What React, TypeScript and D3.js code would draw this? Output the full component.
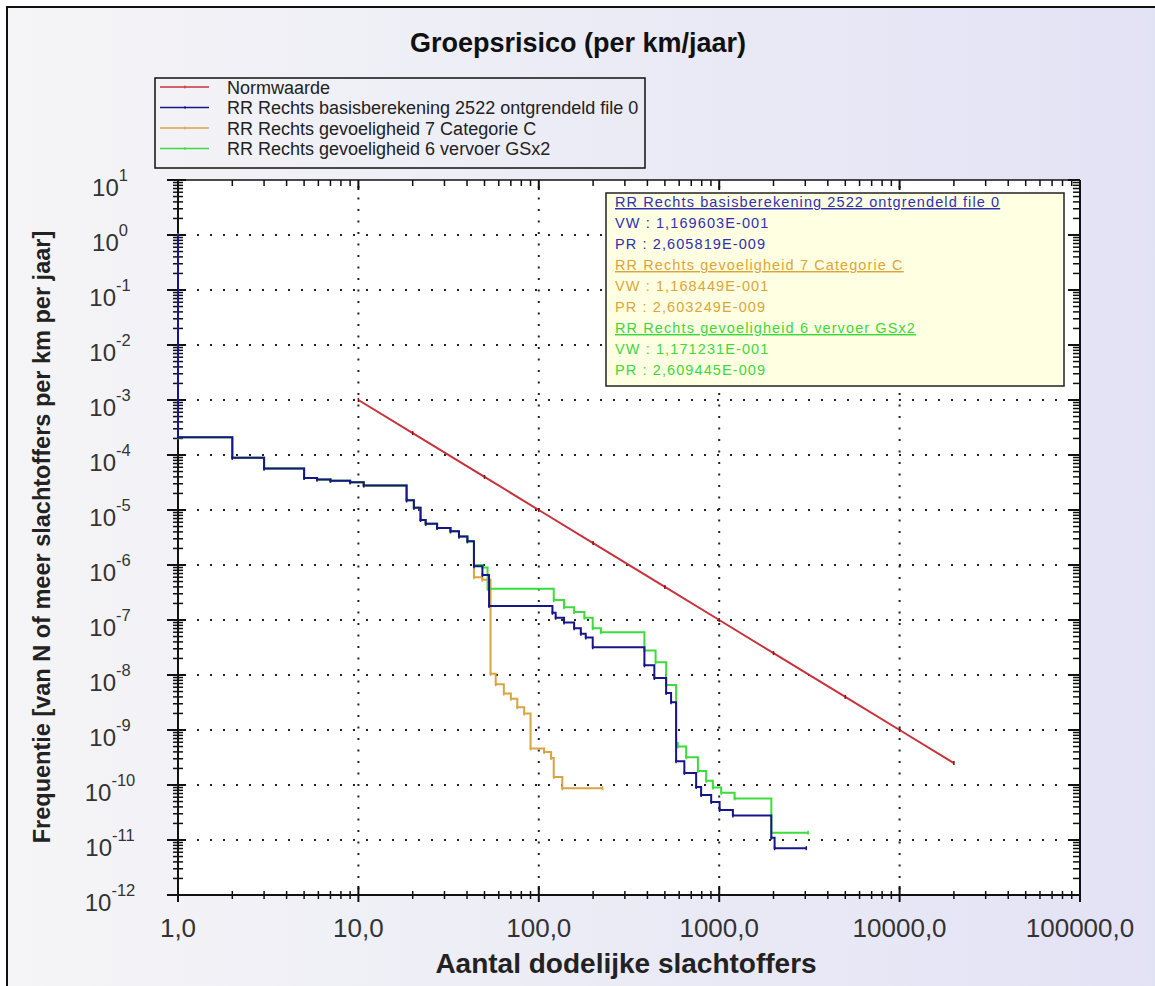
import * as React from "react";
import * as d3 from "d3";

// N (number of fatalities) and F (frequency of N or more) - step curves
const sharedHead: [number, number][] = [
  [1, 1], [1, 2.1e-4], [2, 8.9e-5], [3, 5.7e-5], [5, 3.8e-5], [5.9, 3.6e-5],
  [7, 3.4e-5], [9, 3.2e-5], [10.7, 2.8e-5], [18.5, 1.5e-5], [20.3, 1.1e-5],
  [22.1, 6.6e-6], [23.6, 5.6e-6], [27.3, 4.7e-6], [32.4, 4.1e-6], [36.1, 3.3e-6],
  [40.2, 2.7e-6],
];

const basisTail: [number, number][] = [
  [43.7, 9.5e-7], [48.7, 6.6e-7], [53, 1.8e-7], [119, 1.35e-7], [124, 1.1e-7],
  [138, 9e-8], [157, 7.1e-8], [171, 5.6e-8], [182, 4.8e-8], [199, 3.2e-8],
  [385, 1.5e-8], [437, 8.8e-9], [508, 4.7e-9], [541, 3.2e-9], [577, 2.7e-10],
  [641, 1.66e-10], [745, 9.2e-11], [794, 6.6e-11], [903, 4.9e-11], [1005, 3.5e-11],
  [1191, 2.8e-11], [1945, 1.1e-11], [2028, 7.1e-12], [3040, 7.1e-12],
];

const categorieCTail: [number, number][] = [
  [43.7, 6e-7], [48.7, 5.4e-7], [54, 1.05e-8], [57.7, 6.8e-9], [64, 4.6e-9],
  [70, 3.7e-9], [76, 2.6e-9], [83, 2e-9], [90, 4.6e-10], [107, 4e-10],
  [117, 3.1e-10], [121, 1.4e-10], [135, 8.7e-11], [226, 8.7e-11],
];

const vervoerTail: [number, number][] = [
  [43.7, 1e-6], [48.7, 9e-7], [52, 3.7e-7], [121, 2.3e-7], [138, 1.7e-7],
  [157, 1.4e-7], [179, 1.1e-7], [199, 7.1e-8], [221, 6e-8], [385, 2.8e-8],
  [444, 1.7e-8], [508, 6.6e-9], [577, 5.8e-10], [589, 5e-10], [656, 3.2e-10],
  [762, 1.8e-10], [847, 1.2e-10], [922, 9e-11], [1026, 7.2e-11], [1217, 5.7e-11],
  [1945, 1.35e-11], [3110, 1.35e-11],
];

const normwaarde: [number, number][] = [
  [10, 1e-3], [20, 2.5e-4], [50, 4e-5], [100, 1e-5], [200, 2.5e-6], [500, 4e-7],
  [1000, 1e-7], [2000, 2.5e-8], [5000, 4e-9], [10000, 1e-9], [20000, 2.5e-10],
];

const legendLabels = [
  "Normwaarde",
  "RR Rechts basisberekening 2522 ontgrendeld file 0",
  "RR Rechts gevoeligheid 7 Categorie C",
  "RR Rechts gevoeligheid 6 vervoer GSx2",
];
const seriesColors = ["#c8323a", "#16168a", "#d9a441", "#3ddc3d"];
const infoColors = ["#3030b4", "#dca53a", "#3cd83c"];

const infoLines = [
  ["RR Rechts basisberekening 2522 ontgrendeld file 0", "VW : 1,169603E-001", "PR : 2,605819E-009"],
  ["RR Rechts gevoeligheid 7 Categorie C", "VW : 1,168449E-001", "PR : 2,603249E-009"],
  ["RR Rechts gevoeligheid 6 vervoer GSx2", "VW : 1,171231E-001", "PR : 2,609445E-009"],
];

const yExponents = [1, 0, -1, -2, -3, -4, -5, -6, -7, -8, -9, -10, -11, -12];
const xTickValues = [1, 10, 100, 1000, 10000, 100000];
const xTickLabels = ["1,0", "10,0", "100,0", "1000,0", "10000,0", "100000,0"];

const FONT = "'Liberation Sans', Arial, sans-serif";

export default function App() {
  const W = 1155;
  const H = 986;
  const left = 178, right = 1080, top = 180, bottom = 895;

  const x = d3.scaleLog().domain([1, 1e5]).range([left, right]);
  const y = d3.scaleLog().domain([1e-12, 1e1]).range([bottom, top]);

  const stepLine = d3
    .line<[number, number]>()
    .x((d) => x(d[0]))
    .y((d) => y(d[1]))
    .curve(d3.curveStepAfter);
  const straight = d3
    .line<[number, number]>()
    .x((d) => x(d[0]))
    .y((d) => y(d[1]));

  const basis = sharedHead.concat(basisTail);
  const catC = sharedHead.concat(categorieCTail);
  const gsx2 = sharedHead.concat(vervoerTail);

  // minor ticks
  const yMinor: number[] = [];
  for (let e = -12; e < 1; e++) for (let m = 2; m <= 9; m++) yMinor.push(m * Math.pow(10, e));
  const xMinor: number[] = [];
  for (let e = 0; e < 5; e++) for (let m = 2; m <= 9; m++) xMinor.push(m * Math.pow(10, e));

  const dots = (d: [number, number][], color: string, key: string) =>
    d.map((p, i) => (
      <line key={key + i} x1={x(p[0])} x2={x(p[0])} y1={y(p[1]) - 2} y2={y(p[1]) + 2} stroke={color} strokeWidth={1.5} />
    ));

  const box = { x: 606, y: 193, w: 458, h: 193 };

  return (
    <svg width={W} height={H} style={{ position: "absolute", left: 0, top: 0, display: "block" }} fontFamily={FONT}>
      <defs>
        <linearGradient id="bg" x1="0" x2="1" y1="0" y2="0">
          <stop offset="0" stopColor="#f5f5f7" />
          <stop offset="1" stopColor="#e2e2f5" />
        </linearGradient>
      </defs>
      <rect x={0} y={0} width={W} height={H} fill="#ffffff" />
      <rect x={7} y={7} width={1170} height={1000} fill="url(#bg)" stroke="#111" strokeWidth={2} />

      <text x={578} y={52} textAnchor="middle" fontSize={27} fontWeight="bold" fill="#111">
        Groepsrisico (per km/jaar)
      </text>

      {/* legend */}
      <rect x={155} y={78} width={490} height={90} fill="none" stroke="#111" strokeWidth={1.5} />
      {legendLabels.map((label, i) => {
        const cy = 87 + i * 20.5;
        return (
          <g key={label}>
            <line x1={160} x2={209} y1={cy} y2={cy} stroke={seriesColors[i]} strokeWidth={1.5} />
            <line x1={185} x2={185} y1={cy - 1.5} y2={cy + 1.5} stroke={seriesColors[i]} strokeWidth={1} />
            <text x={227} y={cy + 6.5} fontSize={18} fill="#222">
              {label}
            </text>
          </g>
        );
      })}

      {/* plot area */}
      <rect x={left} y={top} width={right - left} height={bottom - top} fill="#ffffff" />

      {yExponents
        .filter((e) => e < 1 && e > -12)
        .map((e) => (
          <line key={"gy" + e} x1={left + 6} x2={right} y1={y(Math.pow(10, e))} y2={y(Math.pow(10, e))}
            stroke="#222" strokeWidth={2} strokeDasharray="2 11" />
        ))}
      {xTickValues
        .filter((v) => v > 1 && v < 1e5)
        .map((v) => (
          <line key={"gx" + v} x1={x(v)} x2={x(v)} y1={top + 6} y2={bottom} stroke="#222" strokeWidth={2} strokeDasharray="2 9.5" />
        ))}

      {/* axes */}
      <line x1={left} x2={right} y1={top} y2={top} stroke="#111" strokeWidth={1.5} />
      <line x1={left} x2={left} y1={top} y2={bottom} stroke="#111" strokeWidth={2} />
      <line x1={right} x2={right} y1={top} y2={bottom} stroke="#111" strokeWidth={2} />
      <line x1={left} x2={right} y1={bottom} y2={bottom} stroke="#111" strokeWidth={2} />

      {yMinor.map((v, i) => (
        <g key={"ym" + i}>
          <line x1={left - 5} x2={left + 5} y1={y(v)} y2={y(v)} stroke="#111" strokeWidth={1.5} />
          <line x1={right - 7} x2={right} y1={y(v)} y2={y(v)} stroke="#111" strokeWidth={1.5} />
        </g>
      ))}
      {yExponents.map((e) => (
        <g key={"yM" + e}>
          <line x1={left - 11} x2={left + 8} y1={y(Math.pow(10, e))} y2={y(Math.pow(10, e))} stroke="#111" strokeWidth={2} />
          <line x1={right - 12} x2={right} y1={y(Math.pow(10, e))} y2={y(Math.pow(10, e))} stroke="#111" strokeWidth={2} />
          <text x={110} y={y(Math.pow(10, e)) + 16} textAnchor="middle" fill="#333">
            <tspan fontSize={24}>10</tspan>
            <tspan fontSize={16.5} dy={-15}>{e}</tspan>
          </text>
        </g>
      ))}
      {xMinor.map((v, i) => (
        <g key={"xm" + i}>
          <line x1={x(v)} x2={x(v)} y1={bottom - 4} y2={bottom + 4} stroke="#111" strokeWidth={1.5} />
          <line x1={x(v)} x2={x(v)} y1={top} y2={top + 6} stroke="#111" strokeWidth={1.5} />
        </g>
      ))}
      {xTickValues.map((v, i) => (
        <g key={"xM" + v}>
          <line x1={x(v)} x2={x(v)} y1={bottom - 9} y2={bottom + 7} stroke="#111" strokeWidth={2} />
          <line x1={x(v)} x2={x(v)} y1={top} y2={top + 10} stroke="#111" strokeWidth={2} />
          <text x={x(v)} y={937} textAnchor="middle" fontSize={26} fill="#333">
            {xTickLabels[i]}
          </text>
        </g>
      ))}

      {/* series */}
      <path d={straight(normwaarde) ?? undefined} fill="none" stroke={seriesColors[0]} strokeWidth={2} />
      {dots(normwaarde, "#8a1010", "n")}
      <path d={stepLine(catC) ?? undefined} fill="none" stroke={seriesColors[2]} strokeWidth={2} />
      {dots(catC, seriesColors[2], "c")}
      <path d={stepLine(gsx2) ?? undefined} fill="none" stroke={seriesColors[3]} strokeWidth={2} />
      {dots(gsx2, seriesColors[3], "g")}
      <path d={stepLine(basis) ?? undefined} fill="none" stroke={seriesColors[1]} strokeWidth={2} />
      {dots(basis, seriesColors[1], "b")}

      {/* info box */}
      <rect x={box.x} y={box.y} width={box.w} height={box.h} fill="#ffffe2" stroke="#222" strokeWidth={1.5} />
      {infoLines.map((group, gi) =>
        group.map((line, li) => {
          const idx = gi * 3 + li;
          const baseY = 207 + idx * 21;
          return (
            <text key={"info" + idx} x={box.x + 9} y={baseY} fontSize={14.5} letterSpacing={1.1}
              fill={infoColors[gi]} textDecoration={li === 0 ? "underline" : undefined}>
              {line}
            </text>
          );
        })
      )}

      <text x={626} y={973} textAnchor="middle" fontSize={28} fontWeight="bold" fill="#222">
        Aantal dodelijke slachtoffers
      </text>
      <text transform={`translate(50,537) rotate(-90)`} textAnchor="middle" fontSize={23.5} fontWeight="bold" fill="#222">
        Frequentie [van N of meer slachtoffers per km per jaar]
      </text>
    </svg>
  );
}
